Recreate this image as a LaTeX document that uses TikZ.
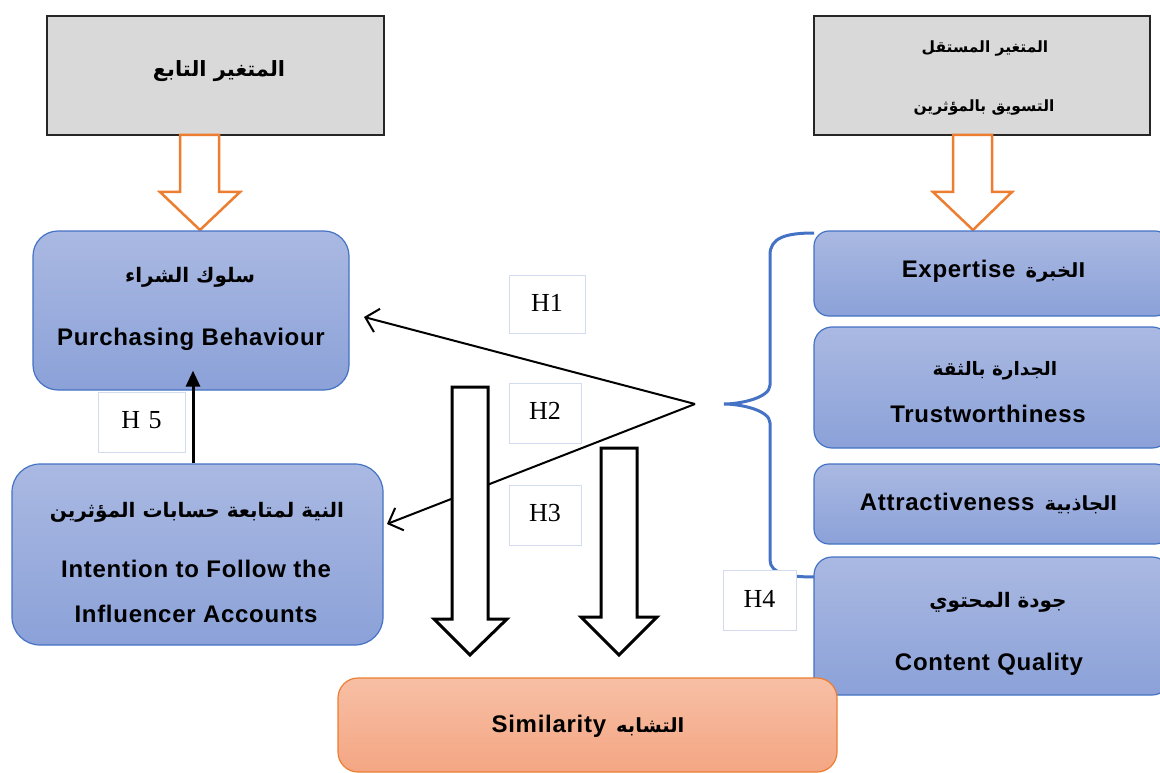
\documentclass[tikz,border=0pt]{standalone}
\usepackage{fontspec}
\setmainfont{Liberation Sans}
\newfontfamily\enfont[LetterSpace=3]{Liberation Sans}
\newfontfamily\arabicfont[Script=Arabic]{DejaVu Sans}
\newfontfamily\hfont{Liberation Serif}
\TeXXeTstate=1
\usetikzlibrary{arrows.meta,calc}
\newcommand{\artxt}[1]{{\arabicfont\bfseries\beginR #1\endR}}
\newcommand{\armix}[1]{\hspace{10pt}{\fontsize{19.5}{24}\selectfont\arabicfont\bfseries\beginR #1\endR}}
\definecolor{grayfill}{HTML}{D9D9D9}
\definecolor{bluetop}{HTML}{AAB9E2}
\definecolor{bluebot}{HTML}{8BA1D8}
\definecolor{blueedge}{HTML}{4472C4}
\definecolor{orangeedge}{HTML}{ED7D31}
\definecolor{orangetop}{HTML}{F7BFA5}
\definecolor{orangebot}{HTML}{F4A683}
\definecolor{hedge}{HTML}{D3DCEF}
\tikzset{
  graybox/.style={draw=black!85, line width=1.5pt, fill=grayfill, inner sep=0pt},
  bluebox/.style={draw=blueedge, line width=1.2pt, top color=bluetop, bottom color=bluebot, inner sep=0pt},
  orangebox/.style={draw=orangeedge, line width=1.2pt, top color=orangetop, bottom color=orangebot, inner sep=0pt, rounded corners=20pt},
  hbox/.style={draw=hedge, line width=1pt, fill=white, inner sep=0pt},
  htext/.style={font=\hfont\fontsize{26}{30}\selectfont, anchor=base, inner sep=0pt},
  entext/.style={font=\enfont\bfseries\fontsize{24}{28}\selectfont, anchor=base, inner sep=0pt},
  artext/.style={font=\fontsize{20}{26}\selectfont, anchor=base, inner sep=0pt},
  hyp/.style={line width=2pt, -{Straight Barb[length=12pt,width=24pt,line width=2pt]}},
  hollowblack/.style={draw=black, line width=3pt, fill=white, line join=miter},
  holloworange/.style={draw=orangeedge, line width=2.5pt, fill=white, line join=miter},
  brace/.style={draw=blueedge, line width=3pt}
}
\begin{document}
\begin{tikzpicture}[x=1pt,y=-1pt]
\useasboundingbox (0,0) rectangle (1160,773);
\clip (0,0) rectangle (1160,773);
% top gray boxes
\node[graybox, minimum width=337pt, minimum height=119pt] (dep) at (215.5,75.5) {};
\node[graybox, minimum width=336pt, minimum height=119pt] (indep) at (982,75.5) {};
\node[artext, font=\fontsize{21}{26}\selectfont] (tdep) at (219,77) {\artxt{المتغير التابع}};
\node[artext, font=\fontsize{15.5}{20}\selectfont] (tind1) at (985,53) {\artxt{المتغير المستقل}};
\node[artext, font=\fontsize{15.5}{20}\selectfont] (tind2) at (984,112) {\artxt{التسويق بالمؤثرين}};
% orange hollow arrows
\draw[holloworange] (180,135) -- (219,135) -- (219,192) -- (240,192) -- (200,230) -- (160,192) -- (180,192) -- cycle;
\draw[holloworange] (953,135) -- (992,135) -- (992,192) -- (1012,192) -- (973,230) -- (933,192) -- (953,192) -- cycle;
% left boxes
\node[bluebox, rounded corners=25pt, minimum width=316pt, minimum height=159pt] (pb) at (191,310.5) {};
\node[artext] (tpb1) at (190,282) {\artxt{سلوك الشراء}};
\node[entext] (tpb2) at (191,345) {Purchasing Behaviour};
\node[bluebox, rounded corners=28pt, minimum width=371pt, minimum height=181pt] (intn) at (197.5,554.5) {};
\node[artext] (tin1) at (197,517) {\artxt{النية لمتابعة حسابات المؤثرين}};
\node[entext] (tin2) at (196,577) {Intention to Follow the};
\node[entext] (tin3) at (196,622) {Influencer Accounts};
% right boxes
\node[bluebox, rounded corners=15pt, minimum width=356pt, minimum height=85pt] (exp) at (992,273.5) {};
\node[entext] (texp) at (993.5,277) {Expertise\armix{الخبرة}};
\node[bluebox, rounded corners=18pt, minimum width=356pt, minimum height=121pt] (tru) at (992,387.5) {};
\node[artext, font=\fontsize{18.5}{24}\selectfont] (ttru1) at (995,375) {\artxt{الجدارة بالثقة}};
\node[entext] (ttru2) at (988,422) {Trustworthiness};
\node[bluebox, rounded corners=15pt, minimum width=356pt, minimum height=80pt] (att) at (992,504) {};
\node[entext] (tatt) at (988.5,510) {Attractiveness\armix{الجاذبية}};
\node[bluebox, rounded corners=18pt, minimum width=356pt, minimum height=138pt] (cq) at (992,626) {};
\node[artext] (tcq1) at (998,607) {\artxt{جودة المحتوي}};
\node[entext] (tcq2) at (989,670) {Content Quality};
% brace
\draw[brace] (814,233) .. controls (785,233) and (770,238) .. (770,255) -- (770,385) .. controls (770,398) and (740,404) .. (724,404) .. controls (740,404) and (770,410) .. (770,423) -- (770,560) .. controls (770,574) and (790,577) .. (814,577);
% hypothesis lines
\coordinate (apex) at (695,404);
\coordinate (h1end) at (364,317);
\coordinate (h2end) at (387,524);
\draw[hyp] (apex) -- (h1end);
\draw[hyp] (apex) -- (h2end);
% H5 arrow
\draw[line width=3pt, -{Triangle[length=16pt,width=14pt]}] ($(intn.north)+(-4.5,0)$) -- ($(pb.south)+(2,-20)$);
% hollow black arrows
\draw[hollowblack] (452,387) -- (488,387) -- (488,619) -- (507,619) -- (470,655) -- (434,619) -- (452,619) -- cycle;
\draw[hollowblack] (601,448) -- (637,448) -- (637,617) -- (657,617) -- (619,655) -- (581,617) -- (601,617) -- cycle;
% H labels
\node[hbox, minimum width=76pt, minimum height=58pt] (h1) at (547,304) {};
\node[htext] (th1) at (547,311) {H1};
\node[hbox, minimum width=72pt, minimum height=60pt] (h2) at (545,413) {};
\node[htext] (th2) at (545,419) {H2};
\node[hbox, minimum width=72pt, minimum height=60pt] (h3) at (545,515) {};
\node[htext] (th3) at (545,521) {H3};
\node[hbox, minimum width=73pt, minimum height=60pt] (h4) at (759.5,600) {};
\node[htext] (th4) at (759.5,607) {H4};
\node[hbox, minimum width=87pt, minimum height=60pt] (h5) at (141.5,422) {};
\node[htext] (th5) at (141.5,428) {H\,\,5};
% similarity
\node[orangebox, minimum width=499pt, minimum height=94pt] (sim) at (587.5,725) {};
\node[entext] (tsim) at (588,732) {Similarity\armix{التشابه}};
\end{tikzpicture}
\end{document}
